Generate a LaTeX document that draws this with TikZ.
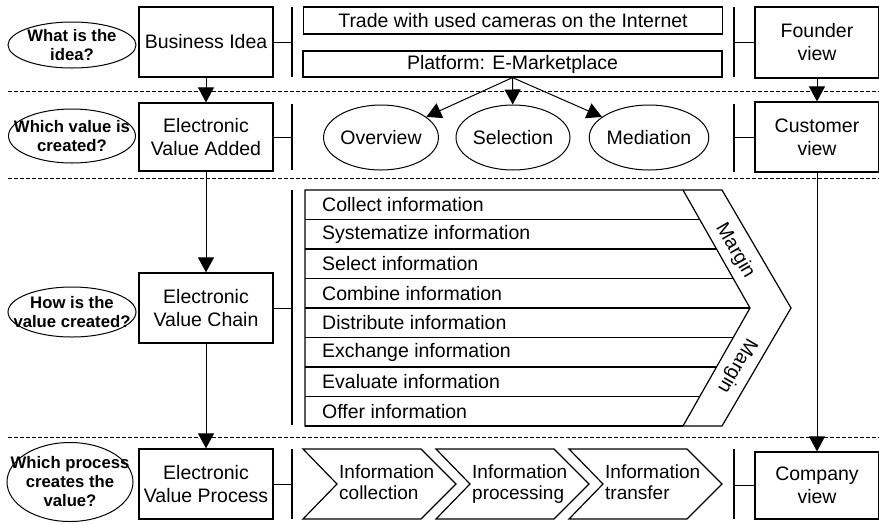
\documentclass[tikz,border=0pt]{standalone}
\usepackage{fontspec}
\setmainfont{Liberation Sans}
\usetikzlibrary{shapes.geometric,arrows.meta}
\begin{document}
\begin{tikzpicture}[x=1pt, y=-1pt,
    every node/.style={font=\fontsize{19.5}{23}\selectfont},
    box/.style={draw, line width=1.2pt, align=center, inner sep=0pt},
    question/.style={draw, ellipse, line width=1pt, inner sep=0pt},
    ask/.style={font=\fontsize{16.7}{19}\selectfont\bfseries, align=center, inner sep=0pt},
    bar/.style={line width=1.4pt},
    link/.style={line width=1pt},
    flow/.style={line width=1pt, -{Triangle[length=15pt,width=16pt]}},
    sep/.style={dash pattern=on 3.5pt off 2.5pt, line width=0.9pt},
    chev/.style={line width=1.2pt, line join=miter},
]
    \useasboundingbox (0,0) rectangle (879,523);
    \coordinate (lbar) at (292,0);
    \coordinate (rbar) at (734,0);
    % Separators between the levels
    \draw[sep] (8,91) -- (879,91);
    \draw[sep] (8,178) -- (879,178);
    \draw[sep] (8,437) -- (879,437);
    % Questions
    \node[question, minimum width=128pt, minimum height=46pt, label={[ask]center:{What is the\\idea?}}] (q1) at (72,45) {};
    \node[question, minimum width=127pt, minimum height=54pt, label={[ask]center:{Which value is\\created?}}] (q2) at (72,136) {};
    \node[question, minimum width=128pt, minimum height=50pt, label={[ask]center:{How is the\\value created?}}] (q3) at (72,312) {};
    \node[question, minimum width=126pt, minimum height=79pt, label={[ask]center:{Which process\\creates the\\value?}}] (q4) at (70,482) {};
    % Levels
    \node[box, minimum width=134pt, minimum height=70pt] (idea) at (206,42) {Business Idea};
    \node[box, minimum width=134pt, minimum height=68pt] (added) at (206,137) {Electronic\\Value Added};
    \node[box, minimum width=134pt, minimum height=70pt] (chain) at (206,308) {Electronic\\Value Chain};
    \node[box, minimum width=134pt, minimum height=70pt] (process) at (206,484) {Electronic\\Value Process};
    % Views
    \node[box, minimum width=124pt, minimum height=71pt] (founder) at (817,42.5) {Founder\\view};
    \node[box, minimum width=124pt, minimum height=70pt] (customer) at (817,137) {Customer\\view};
    \node[box, minimum width=124pt, minimum height=67pt] (company) at (817,485.5) {Company\\view};
    % Business idea
    \node[box, minimum width=419pt, minimum height=27pt] (trade) at (513,20.5) {Trade with used cameras on the Internet};
    \node[box, minimum width=419pt, minimum height=26pt] (plat) at (512.5,64) {Platform: E-Marketplace};
    % Value added
    \node[question, minimum width=112pt, minimum height=65pt] (over) at (381,137.5) {Overview};
    \node[question, minimum width=114pt, minimum height=65pt] (sel) at (513,137.5) {Selection};
    \node[question, minimum width=114pt, minimum height=65pt] (med) at (649,137.5) {Mediation};
    \draw[flow] (plat.south) -- (over);
    \draw[flow] (plat.south) -- (sel);
    \draw[flow] (plat.south) -- (med);
    % Bars
    \draw[bar] (292,7) -- (292,77);
    \draw[bar] (292,104) -- (292,170);
    \draw[bar] (292,190) -- (292,425);
    \draw[bar] (292,449) -- (292,519);
    \draw[bar] (734,7) -- (734,77);
    \draw[bar] (734,104) -- (734,172);
    \draw[bar] (734,449) -- (734,519);
    \draw[link] (idea.east) -- (idea.east -| lbar);
    \draw[link] (added.east) -- (added.east -| lbar);
    \draw[link] (chain.east) -- (chain.east -| lbar);
    \draw[link] (process.east) -- (process.east -| lbar);
    \draw[link] (founder.west -| rbar) -- (founder.west);
    \draw[link] (customer.west -| rbar) -- (customer.west);
    \draw[link] (company.west -| rbar) -- (company.west);
    % Downward flow
    \draw[flow] (idea) -- (added);
    \draw[flow] (added) -- (chain);
    \draw[flow] (chain) -- (process);
    \draw[flow] (founder) -- (customer);
    \draw[flow] (customer) -- (company);
    % Value chain
    \draw[chev] (305,190) -- (722,190) -- (791,308) -- (722,426) -- (305,426) -- cycle;
    \draw[chev] (683,190) -- (750,308) -- (683,426);
    \draw[line width=2pt] (305,426) -- (683,426);
    \foreach \k in {1,...,7} {
        \pgfmathsetmacro\yy{190+29.5*\k}
        \pgfmathsetmacro\xx{683+67*(1-abs(\yy-308)/118)}
        \draw[line width=1.2pt] (305,\yy) -- (\xx,\yy);
    }
    \foreach \txt [count=\k] in {Collect information, Systematize information, Select information, Combine information, Distribute information, Exchange information, Evaluate information, Offer information} {
        \node[anchor=west, inner sep=0pt] (c\k) at (322,175.25+29.5*\k) {\txt};
    }
    \node[rotate=-60, inner sep=0pt] (m1) at (735,251) {Margin};
    \node[rotate=-120, inner sep=0pt] (m2) at (737,366) {Margin};
    % Value process
    \foreach \x/\a/\b [count=\k] in {303/Information/collection, 436/Information/processing, 569/Information/transfer} {
        \draw[chev] (\x,449) -- (\x+118,449) -- (\x+153,484) -- (\x+118,519) -- (\x,519) -- (\x+34,484) -- cycle;
        \node[anchor=base west, align=left, inner sep=0pt, font=\fontsize{19}{21}\selectfont] (p\k) at (\x+36,499) {\a\\\b};
    }
\end{tikzpicture}
\end{document}
